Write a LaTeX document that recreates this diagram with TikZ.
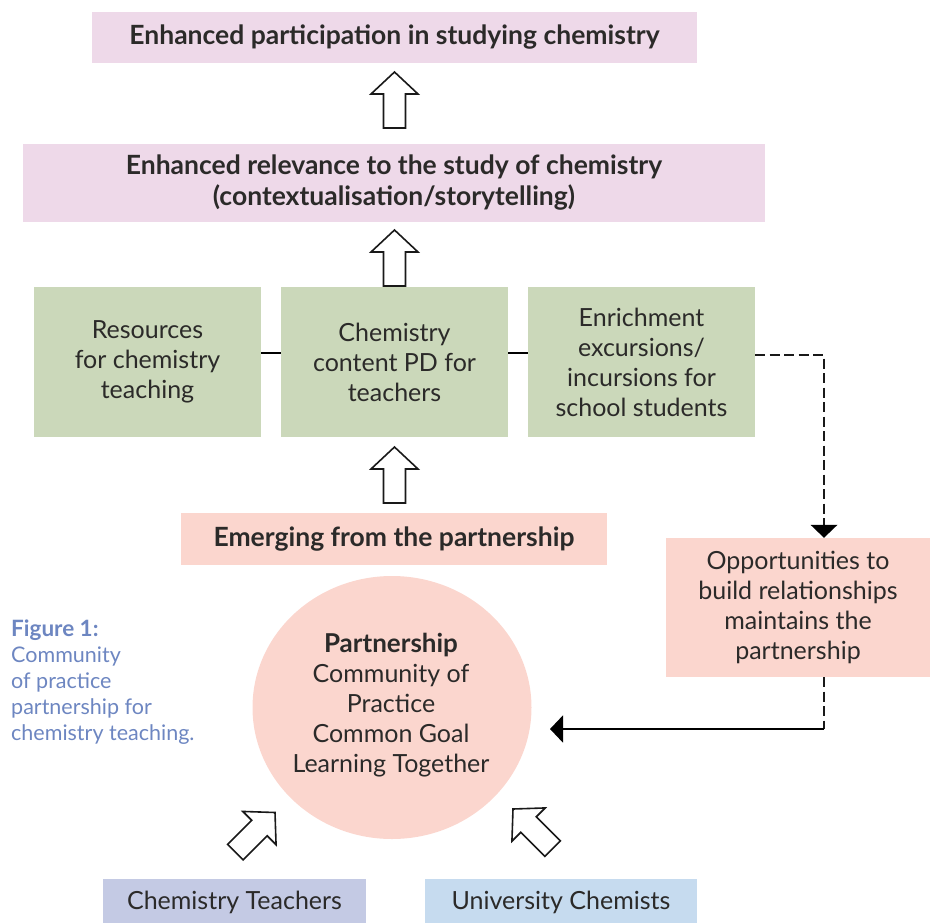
\documentclass[tikz,border=0pt]{standalone}
\usepackage{fontspec}
\setmainfont{Lato}
\usetikzlibrary{arrows.meta,shapes.geometric}
\definecolor{txt}{HTML}{2B2A29}
\definecolor{pinkbox}{HTML}{EED9E9}
\definecolor{greenbox}{HTML}{CBD8BA}
\definecolor{salmon}{HTML}{FBD6CE}
\definecolor{teachbox}{HTML}{C4CAE4}
\definecolor{chembox}{HTML}{C6DBEF}
\definecolor{capblue}{HTML}{6D86C1}
\begin{document}
\begin{tikzpicture}[x=1pt,y=-1pt,
  box/.style={fill=#1, draw=none, inner sep=0pt, align=center, text=txt,
    font=\fontsize{25}{30}\selectfont},
  titlebox/.style={box=pinkbox, font=\fontsize{26.5}{31}\selectfont\bfseries},
  greenstep/.style={box=greenbox, minimum width=227pt, minimum height=150pt},
  link/.style={line width=2pt, draw=black},
  dashlink/.style={line width=2pt, draw=black!90, dash pattern=on 10pt off 4.5pt},
  headtip/.style={-{Triangle[width=27pt,length=13pt]}},
  pics/hollowup/.style={code={
    \draw[line width=1.6pt, fill=white, line join=miter, draw=black!90]
      (0,0) -- (23.5,22) -- (11,22) -- (11,56) -- (-11,56) -- (-11,22) -- (-23.5,22) -- cycle;}}
]
\useasboundingbox (0,0) rectangle (930,922);

% top boxes
\node[titlebox, minimum width=605pt, minimum height=51pt] (part) at (394.5,37.5)
  {Enhanced participation in studying chemistry};
\node[titlebox, minimum width=742pt, minimum height=78pt] (relev) at (394,183)
  {Enhanced relevance to the study of chemistry\\(contextualisation/storytelling)};

% green boxes
\node[greenstep] (g1) at (147.5,362) {Resources\\for chemistry\\teaching};
\node[greenstep] (g2) at (394.5,362) {Chemistry\\content PD for\\teachers};
\node[greenstep] (g3) at (641.5,362) {Enrichment\\excursions/\\incursions for\\school students};

\draw[link] ([yshift=9pt]g1.east) -- ([yshift=9pt]g2.west);
\draw[link] ([yshift=9pt]g2.east) -- ([yshift=9pt]g3.west);

% emerging
\node[box=salmon, font=\fontsize{26.5}{31}\selectfont\bfseries, minimum width=426pt, minimum height=52pt]
  (emerg) at (394,539) {Emerging from the partnership};

% opportunities
\node[box=salmon, minimum width=264pt, minimum height=139pt] (opp) at (798,607.5)
  {Opportunities to\\build relationships\\maintains the\\partnership};

% circle
\node[ellipse, fill=salmon, inner sep=0pt, minimum width=279pt, minimum height=263pt] (circ) at (392,707.5) {};
\node[align=center, text=txt, font=\fontsize{25}{30}\selectfont, inner sep=0pt] (circtext) at (391,705)
  {{\fontsize{26}{30}\selectfont\bfseries Partnership}\\Community of\\Practice\\Common Goal\\Learning Together};

% caption
\node[anchor=north west, align=left, text=capblue, inner sep=0pt,
  font=\fontsize{21.5}{26}\selectfont] (caption) at (11,620)
  {{\fontsize{22.5}{26}\selectfont\bfseries Figure 1:}\\Community\\of practice\\partnership for\\chemistry teaching.};

% bottom boxes
\node[box=teachbox, minimum width=263pt, minimum height=46pt] (teach) at (234.5,902)
  {Chemistry Teachers};
\node[box=chembox, minimum width=272pt, minimum height=46pt] (chem) at (561,902)
  {University Chemists};

% hollow arrows
\pic at (394.5,72) {hollowup};
\pic at (394.5,230) {hollowup};
\pic at (394.5,447) {hollowup};
\pic[rotate=-45] at (275,812.5) {hollowup};
\pic[rotate=45] at (513,809) {hollowup};

% dashed connectors
\coordinate (c1) at (824,355);
\coordinate (c2) at (824,729);
\coordinate (c3) at (550,729);
\draw[dashlink] ([yshift=7pt]g3.east) -- (c1) -- ([yshift=12pt]c1 |- opp.north);
\fill[black] ([xshift=-13.5pt,yshift=13pt]c1 |- opp.north) -- ([xshift=13.5pt,yshift=13pt]c1 |- opp.north)
  -- (c1 |- opp.north) -- cycle;
\draw[dashlink] (c1 |- opp.south) -- (c2);
\draw[link, headtip] (c2) -- (c3);
\end{tikzpicture}
\end{document}
